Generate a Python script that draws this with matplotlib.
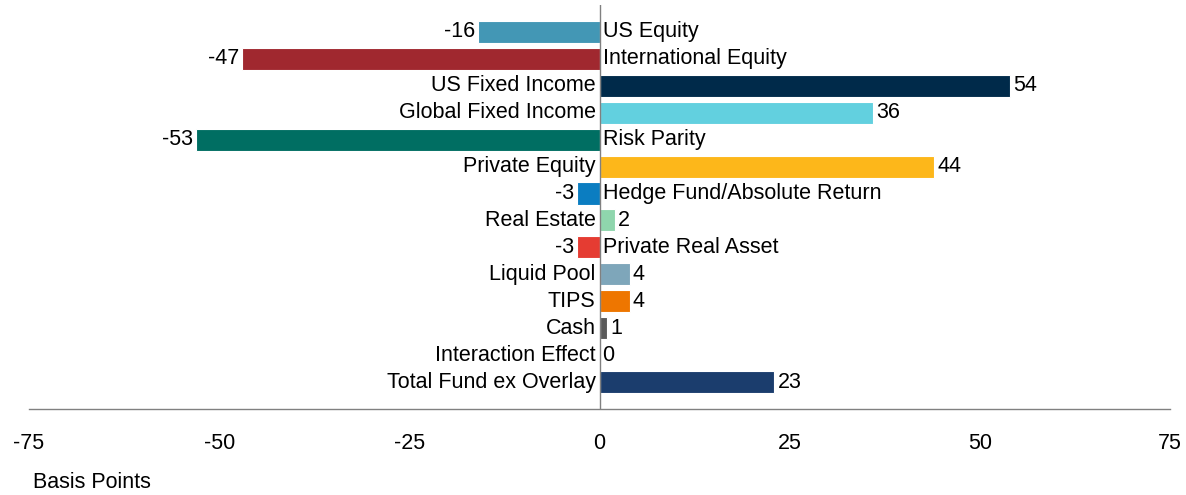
import matplotlib
matplotlib.use("Agg")
import matplotlib.pyplot as plt
from matplotlib import font_manager

names = {f.name for f in font_manager.fontManager.ttflist}
if "Liberation Sans Narrow" in names:
    plt.rcParams["font.family"] = ["Liberation Sans Narrow", "DejaVu Sans"]
else:
    plt.rcParams["font.family"] = ["Liberation Sans", "DejaVu Sans"]

categories = ["US Equity", "International Equity", "US Fixed Income", "Global Fixed Income",
              "Risk Parity", "Private Equity", "Hedge Fund/Absolute Return", "Real Estate",
              "Private Real Asset", "Liquid Pool", "TIPS", "Cash", "Interaction Effect",
              "Total Fund ex Overlay"]
values = [-16, -47, 54, 36, -53, 44, -3, 2, -3, 4, 4, 1, 0, 23]
colors = ["#4397b5", "#a0282f", "#002a4a", "#62d0df", "#006e62", "#fdb71a", "#0b7dc1",
          "#8fd6ad", "#e53c32", "#7ea6ba", "#ee7600", "#5a5a5a", "#ffffff", "#1b3d6d"]
xticks = [-75, -50, -25, 0, 25, 50, 75]

fig = plt.figure(figsize=(11.86, 4.95), dpi=100)
ax = fig.add_axes([0.0245, 0.1737, 0.962, 0.8163])

ypos = list(range(len(categories)))
ax.barh(ypos, values, height=0.82, color=colors, edgecolor="white", linewidth=0.8, zorder=2)
ax.axvline(0, color="#808080", lw=1, zorder=3)

fs = 15.5
for y, v, name in zip(ypos, values, categories):
    if v < 0:
        ax.text(0.5, y, name, ha="left", va="center", fontsize=fs)
        ax.text(v - 0.4, y, f"{v}", ha="right", va="center", fontsize=fs)
    else:
        ax.text(-0.5, y, name, ha="right", va="center", fontsize=fs)
        ax.text(v + 0.4, y, f"{v}", ha="left", va="center", fontsize=fs)

ax.set_xlim(-75, 75)
ax.set_ylim(14, -1)
ax.set_yticks([])
ax.set_xticks(xticks)
ax.set_xticklabels([str(t) for t in xticks], fontsize=fs)
ax.tick_params(axis="x", length=0, pad=17)
for s in ["top", "left", "right"]:
    ax.spines[s].set_visible(False)
ax.spines["bottom"].set_color("#808080")
ax.spines["bottom"].set_linewidth(1)

fig.text(33 / 1186, 1 - 482 / 495, "Basis Points", ha="left", va="center", fontsize=fs)

fig.savefig("out.png", dpi=100)
